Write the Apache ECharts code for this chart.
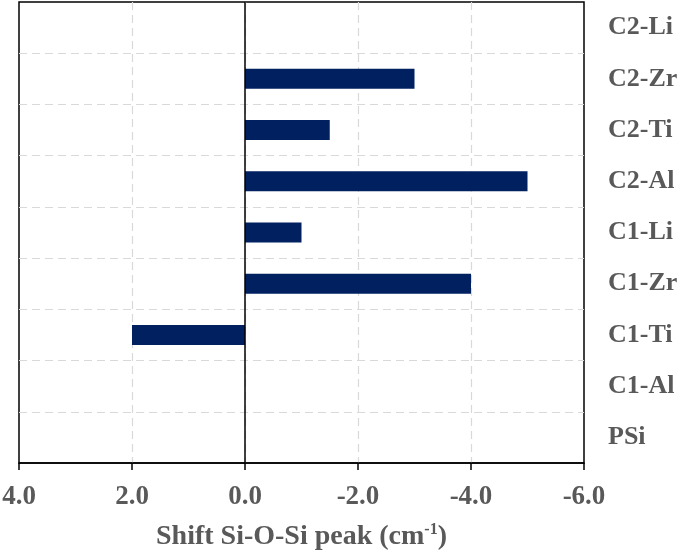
<!DOCTYPE html>
<html>
<head>
<meta charset="utf-8">
<script src="https://cdn.jsdelivr.net/npm/echarts@6/dist/echarts.min.js"></script>
<style>html,body{margin:0;padding:0;background:#fff;}#c{width:685px;height:551px;}</style>
</head>
<body>
<div id="c"></div>
<script>
const categories = ['PSi', 'C1-Al', 'C1-Ti', 'C1-Zr', 'C1-Li', 'C2-Al', 'C2-Ti', 'C2-Zr', 'C2-Li'];
const shiftValues = [0, 0, 2.0, -4.0, -1.0, -5.0, -1.5, -3.0, 0];
const xMin = -6, xMax = 4, xStep = 2;

const serif = '"Liberation Serif", "Times New Roman", serif';
const labelGray = '#595959';
const chart = echarts.init(document.getElementById('c'));
chart.setOption({
  animation: false,
  backgroundColor: '#fff',
  grid: { left: 19, right: 101, top: 2, bottom: 88, show: true, borderColor: '#000', borderWidth: 1.5, backgroundColor: 'transparent', outerBoundsMode: 'none', containLabel: false },
  xAxis: {
    type: 'value', min: xMin, max: xMax, interval: xStep, inverse: true,
    axisLine: { show: true, lineStyle: { color: '#000', width: 1.5 } },
    axisTick: { show: true, length: 7, lineStyle: { color: '#000', width: 1.5 } },
    axisLabel: { formatter: v => v.toFixed(1), color: labelGray, fontFamily: serif, fontWeight: 'bold', fontSize: 27, margin: 21 },
    splitLine: { show: true, showMinLine: false, showMaxLine: false, lineStyle: { color: '#d9d9d9', type: [8, 5], width: 1.2 } },
    name: '{a|Shift Si-O-Si peak (cm}{s|-1}{a|)}',
    nameLocation: 'middle', nameGap: 59,
    nameTextStyle: {
      rich: {
        a: { fontFamily: serif, fontWeight: 'bold', fontSize: 28, color: labelGray, lineHeight: 30 },
        s: { fontFamily: serif, fontWeight: 'bold', fontSize: 16, color: labelGray, verticalAlign: 'top', lineHeight: 30, padding: [0, 0, 10, 0] }
      }
    }
  },
  yAxis: {
    type: 'category', data: categories, position: 'right',
    axisLine: { show: false }, axisTick: { show: false },
    axisLabel: { color: labelGray, fontFamily: serif, fontWeight: 'bold', fontSize: 26, margin: 24 },
    splitLine: { show: true, showMinLine: false, showMaxLine: false, lineStyle: { color: '#d9d9d9', type: [8, 5], width: 1.2 } }
  },
  series: [{
    type: 'bar', data: shiftValues, barWidth: 20,
    itemStyle: { color: '#002060' },
    markLine: {
      silent: true, symbol: 'none', label: { show: false },
      lineStyle: { color: '#000', type: 'solid', width: 1.5 },
      data: [{ xAxis: 0 }]
    }
  }]
});
</script>
</body>
</html>
